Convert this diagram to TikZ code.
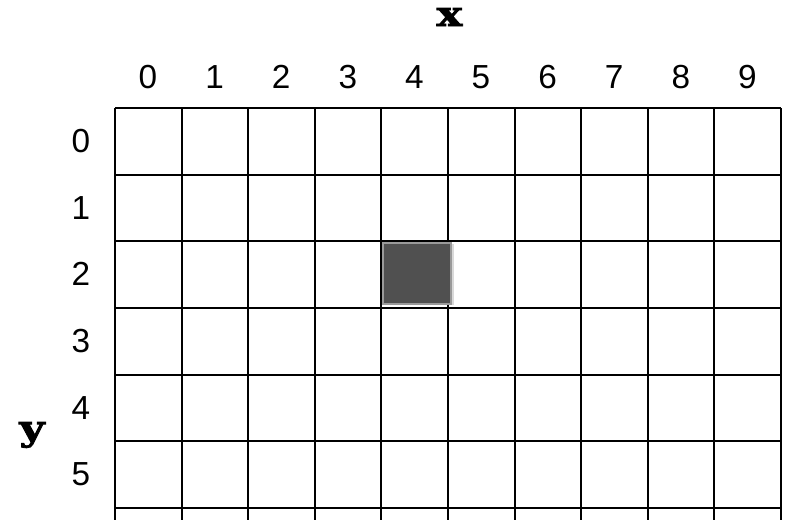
\documentclass[tikz,border=0pt]{standalone}
\usepackage{fontspec}
\setmainfont{Liberation Sans}
\newfontfamily\axisfont[FakeBold=2.5,FakeStretch=1.25]{DejaVu Serif Bold}
\usepackage{tikz}
\usetikzlibrary{shadows}
\definecolor{cellfill}{HTML}{505050}
\definecolor{celledge}{HTML}{9A9A9A}

\begin{document}
\begin{tikzpicture}[x=0.75pt,y=-0.75pt,
  gridline/.style={black,line width=1.5pt},
  numlabel/.style={font=\fontsize{25}{29}\selectfont},
  axislabel/.style={font=\axisfont\fontsize{26}{30}\selectfont}]
  \useasboundingbox (0,0) rectangle (788,519);

  \foreach \i in {0,...,10}
    \draw[gridline] ({115+66.6*\i},108) -- ({115+66.6*\i},522);
  \foreach \j in {0,...,6}
    \draw[gridline] (115,{108+66.67*\j}) -- (781,{108+66.67*\j});

  \draw[celledge,fill=cellfill,line width=1.5pt,
    drop shadow={shadow xshift=2.5pt,shadow yshift=-1pt,opacity=.3}]
    (383,243) rectangle (451,304);

  \foreach \i in {0,...,9}
    \node[numlabel] (col\i) at ({148+66.6*\i},77) {\i};
  \foreach \j in {0,...,5}
    \node[numlabel] (row\j) at (81,{141+66.67*\j}) {\j};

  \node[axislabel] (xlabel) at (449.5,17) {x};
  \node[axislabel] (ylabel) at (32,435) {y};
\end{tikzpicture}
\end{document}
